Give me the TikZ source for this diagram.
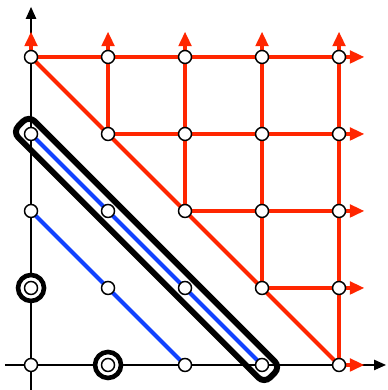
\documentclass[tikz,border=0pt]{standalone}
\usepackage{tikz}
\usetikzlibrary{arrows.meta,calc}
\definecolor{lred}{RGB}{255,38,0}
\definecolor{lblue}{RGB}{18,66,255}
\tikzset{
  >={Triangle[length=4.4pt,width=3.8pt]},
  pt/.style={circle,draw,fill=white,minimum size=4.8pt,inner sep=0pt,line width=0.55pt},
  rg/.style={circle,draw,fill=white,minimum size=9.6pt,inner sep=0pt,line width=1.7pt},
  rl/.style={draw=lred,line width=1.5pt},
  ra/.style={rl,-{Triangle[length=5.4pt,width=4.6pt]}},
  bl/.style={draw=lblue,line width=1.5pt},
  band/.style={draw,rotate=-45,minimum width=4.62cm,minimum height=0.3cm,inner sep=0pt,rounded corners=3pt,line width=2.2pt},
  every picture/.style={line width=0.5pt},
}
\begin{document}
\begin{tikzpicture}
\useasboundingbox (-0.403,-0.325) rectangle (4.623,4.740);
\foreach \i in {0,...,4} {\foreach \j in {0,...,4} {\coordinate (c\i\j) at (\i,\j);}}
\foreach \k in {0,...,4} {\coordinate (u\k) at (\k,4.33); \coordinate (r\k) at (4.33,\k);}
\coordinate (xa) at (-0.34,0); \coordinate (xb) at (4.61,0); \coordinate (ya) at (0,-0.33); \coordinate (yb) at (0,4.65);
\draw[->] (xa)--(xb); \draw[->] (ya)--(yb);
% red region above the diagonal
\draw[rl] (c04)--(c40);
\foreach \j in {1,...,4} {\pgfmathtruncatemacro\s{4-\j} \draw[rl] (c\s\j)--(c4\j); \draw[rl] (c\j\s)--(c\j4);}
\foreach \k in {0,...,4} {\draw[ra] (c\k4)--(u\k); \draw[ra] (c4\k)--(r\k);}
% blue lines
\draw[bl] (c03)--(c30); \draw[bl] (c02)--(c20);
\node[band] (bx) at ($(c03)!0.5!(c30)$) {};
\node[rg] (g01) at (c01) {}; \node[rg] (g10) at (c10) {};
\foreach \i/\j in {0/0,1/0,2/0,3/0,4/0,0/1,0/2,0/3,0/4,1/1,1/2,2/1,1/3,1/4,2/2,2/3,2/4,3/1,3/2,3/3,3/4,4/1,4/2,4/3,4/4}
  \node[pt] (p\i\j) at (c\i\j) {};
\end{tikzpicture}
\end{document}
